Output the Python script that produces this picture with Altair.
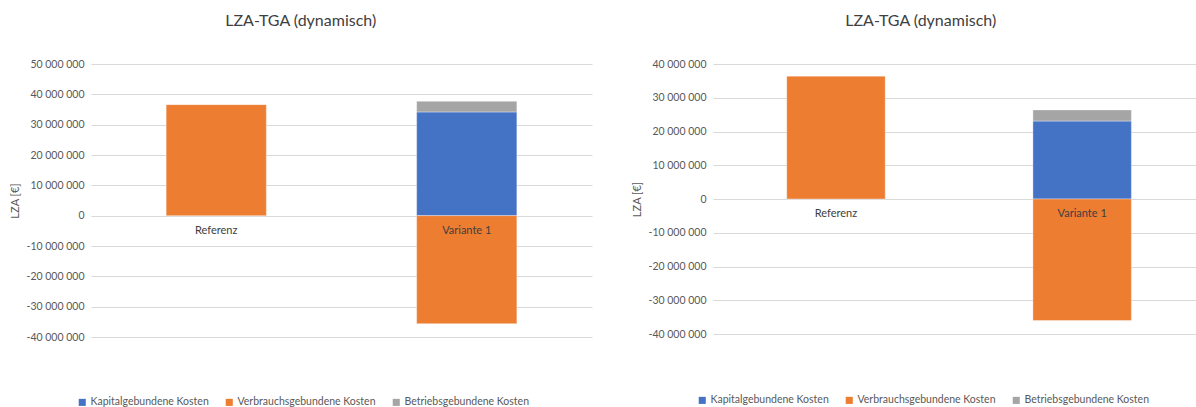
import altair as alt
import pandas as pd

# Categories and cost types
categories = ["Referenz", "Variante 1"]
cost_types = ["Kapitalgebundene Kosten", "Verbrauchsgebundene Kosten", "Betriebsgebundene Kosten"]
colors = ["#4472C4", "#ED7D31", "#A5A5A5"]

# Left panel values (EUR), one list per cost type, ordered like `categories`
left_kapital = [0, 34.2e6]
left_verbrauch = [36.6e6, -35.6e6]
left_betrieb = [0, 3.5e6]

# Right panel values (EUR)
right_kapital = [0, 23.1e6]
right_verbrauch = [36.4e6, -36.0e6]
right_betrieb = [0, 3.3e6]

title_text = "LZA-TGA (dynamisch)"
y_title = "LZA [€]"

FONT = "Lato"
TEXT = "#595959"


def build_table(kapital, verbrauch, betrieb):
    rows = []
    for series, values in zip(cost_types, [kapital, verbrauch, betrieb]):
        for cat, v in zip(categories, values):
            if v != 0:
                rows.append({"Variante": cat, "Kostenart": series, "Wert": v,
                             "Reihenfolge": cost_types.index(series)})
    return pd.DataFrame(rows)


LABEL_EXPR = "replace(replace(format(datum.value, ','), regexp(',', 'g'), ' '), '\u2212', '-')"


def panel(df, ymin, ymax, width, height, legend_x, legend_y,
          outer=0.3, align=0.5, title_dx=0):
    ticks = list(range(int(ymin), int(ymax) + 1, 10_000_000))
    x = alt.X("Variante:N", sort=categories, axis=None,
              scale=alt.Scale(domain=categories, paddingInner=0.6,
                              paddingOuter=outer, align=align))
    bars = alt.Chart(df).mark_bar(stroke="white", strokeWidth=0.6, strokeOpacity=0.6).encode(
        x=x,
        y=alt.Y("sum(Wert):Q", stack="zero",
                scale=alt.Scale(domain=[ymin, ymax], nice=False, zero=False),
                axis=alt.Axis(values=ticks, tickCount=len(ticks), title=y_title,
                              labelExpr=LABEL_EXPR, labelOverlap=False,
                              grid=True, gridColor="#D9D9D9", gridWidth=1,
                              domain=False, ticks=False, labelPadding=7,
                              minExtent=64, maxExtent=64, titlePadding=6.5,
                              labelFont=FONT, labelFontSize=10.5, labelColor=TEXT,
                              titleFont=FONT, titleFontSize=11, titleColor=TEXT,
                              titleFontWeight="normal")),
        color=alt.Color("Kostenart:N",
                        scale=alt.Scale(domain=cost_types, range=colors),
                        legend=alt.Legend(orient="none", direction="horizontal",
                                          legendX=legend_x, legendY=legend_y,
                                          title=None, symbolType="square",
                                          symbolSize=50, symbolStrokeWidth=0,
                                          columnPadding=15, labelOffset=3,
                                          padding=0, labelFont=FONT,
                                          labelFontSize=10.5, labelColor=TEXT,
                                          labelLimit=300)),
        order=alt.Order("Reihenfolge:Q"),
    )
    cat_df = pd.DataFrame({"Variante": categories, "null": [0, 0]})
    labels = alt.Chart(cat_df).mark_text(
        dy=15, font=FONT, fontSize=11, color="#404040", baseline="middle"
    ).encode(x=x, y=alt.Y("null:Q"), text="Variante:N")
    return alt.layer(bars, labels).properties(
        width=width, height=height,
        title=alt.TitleParams(title_text, font=FONT, fontSize=16, fontWeight="normal",
                              color="#404040", anchor="middle", frame="bounds",
                              offset=30, dx=title_dx),
    )


left = panel(build_table(left_kapital, left_verbrauch, left_betrieb),
             -40_000_000, 50_000_000, 501, 273, -14, 333)
# The right plot runs off the right edge of the page, so its bands sit
# slightly left of centre within the visible width.
right = panel(build_table(right_kapital, right_verbrauch, right_betrieb),
              -40_000_000, 40_000_000, 483, 270, -16, 331,
              outer=0.281, align=0.533, title_dx=7)

chart = alt.hconcat(left, right, spacing=39).resolve_scale(
    color="independent", x="independent", y="independent"
).resolve_legend(color="independent").properties(
    padding={"left": 9, "top": 13, "right": 0, "bottom": 0}
).configure(background="white").configure_view(stroke=None)

chart.save("out.html", embed_options={"renderer": "svg", "actions": False})
